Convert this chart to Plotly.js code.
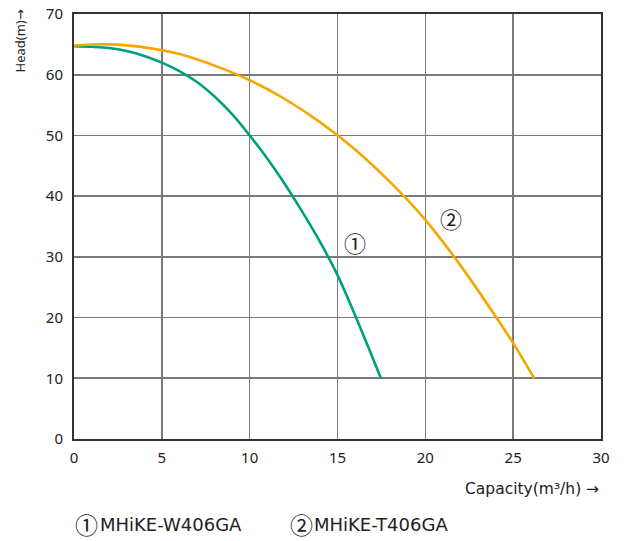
<!DOCTYPE html>
<html>
<head>
<meta charset="utf-8">
<script src="https://cdn.plot.ly/plotly-3.0.1.min.js"></script>
<style>html,body{margin:0;padding:0;background:#fff;}#chart{width:624px;height:541px;}</style>
</head>
<body>
<div id="chart"></div>
<script>
// Data
const capW = [0, 1, 2, 3, 4, 5, 6, 7, 8, 9, 10, 11, 12, 13, 14, 15, 16, 17, 17.47];
const headW = [64.7, 64.6, 64.4, 63.9, 63.1, 62.0, 60.6, 58.8, 56.4, 53.5, 50.0, 46.2, 42.0, 37.4, 32.5, 27.0, 20.4, 13.4, 10.0];
const capT = [0, 2, 4, 6, 8, 10, 12, 14, 16, 18, 20, 22, 24, 25, 26.2];
const headT = [64.8, 65.0, 64.5, 63.4, 61.5, 59.1, 56.0, 52.2, 47.7, 42.3, 36.1, 28.6, 20.2, 15.8, 10.0];
const xTicks = [0, 5, 10, 15, 20, 25, 30];
const yTicks = [0, 10, 20, 30, 40, 50, 60, 70];
const labelW = {q: 16.0, h: 32.4, text: '①'};
const labelT = {q: 21.46, h: 36.4, text: '②'};
const legendMarks = ['①', '②'];
const legendNames = ['MHiKE-W406GA', 'MHiKE-T406GA'];

const font = 'Noto Sans, Open Sans, DejaVu Sans, sans-serif';
const wideFont = 'DejaVu Sans, Noto Sans, sans-serif';
const cjk = 'Noto Sans CJK KR, Noto Sans CJK JP, sans-serif';

const traces = [
  {x: capW, y: headW, mode: 'lines', line: {color: '#00a07e', width: 2.6, shape: 'spline', smoothing: 1}, hoverinfo: 'skip'},
  {x: capT, y: headT, mode: 'lines', line: {color: '#f7a600', width: 2.6, shape: 'spline', smoothing: 1}, hoverinfo: 'skip'}
];

const axisCommon = {
  showgrid: true, gridcolor: '#7a7a7a', gridwidth: 1.6,
  showline: true, linecolor: '#333', linewidth: 2, mirror: true,
  zeroline: false, ticks: '', tickfont: {family: font, size: 15, color: '#222'}
};

// pixel -> paper helpers for legend placement (plot area 74..601 px wide)
const px = v => (v - 74) / 527;
const markX = [73, 288];
const nameX = [98, 312];
const legendAnns = [];
legendMarks.forEach((m, i) => {
  legendAnns.push({x: px(markX[i]), y: -0.2, xref: 'paper', yref: 'paper', xanchor: 'left', yanchor: 'middle',
    text: m, showarrow: false, font: {family: cjk, size: 23, color: '#222'}});
  legendAnns.push({x: px(nameX[i]), y: -0.2, xref: 'paper', yref: 'paper', xanchor: 'left', yanchor: 'middle',
    text: legendNames[i], showarrow: false, font: {family: wideFont, size: 18, color: '#222'}});
});

const layout = {
  width: 624, height: 541,
  margin: {l: 74, r: 23, t: 14, b: 102},
  paper_bgcolor: '#fff', plot_bgcolor: '#fff',
  showlegend: false,
  xaxis: Object.assign({}, axisCommon, {range: [0, 30], tickvals: xTicks, ticktext: xTicks.map(String), ticklabelstandoff: 4}),
  yaxis: Object.assign({}, axisCommon, {range: [0, 70], tickvals: yTicks, ticktext: yTicks.map(String), ticklabelstandoff: 6}),
  annotations: [
    {x: labelW.q, y: labelW.h, xref: 'x', yref: 'y', text: labelW.text, showarrow: false, font: {family: cjk, size: 22, color: '#222'}},
    {x: labelT.q, y: labelT.h, xref: 'x', yref: 'y', text: labelT.text, showarrow: false, font: {family: cjk, size: 22, color: '#222'}},
    {x: 1, y: -0.118, xref: 'paper', yref: 'paper', xanchor: 'right', yanchor: 'middle', text: 'Capacity(m³/h) →', showarrow: false, font: {family: wideFont, size: 15.5, color: '#222'}},
    {x: -0.1006, y: 1.0165, xref: 'paper', yref: 'paper', xanchor: 'center', yanchor: 'top', textangle: -90, text: 'Head(m)→', showarrow: false, font: {family: font, size: 13, color: '#222'}}
  ].concat(legendAnns)
};

Plotly.newPlot('chart', traces, layout, {staticPlot: true, displayModeBar: false});
</script>
</body>
</html>
